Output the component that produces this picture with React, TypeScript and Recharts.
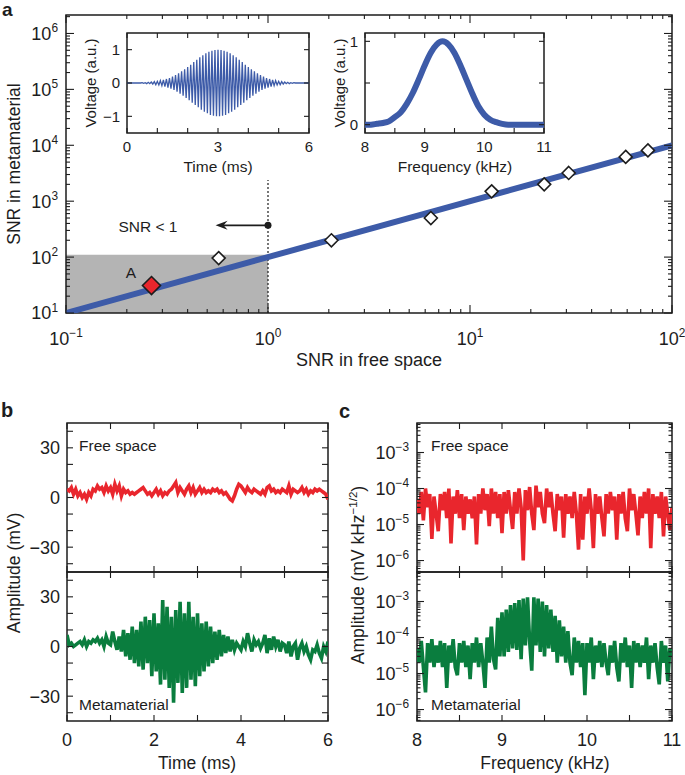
import React from "react";
import {
  ComposedChart,
  LineChart,
  Line,
  Scatter,
  XAxis,
  YAxis,
  ReferenceArea,
  ReferenceLine,
  ReferenceDot,
} from "recharts";

const FONT = "'Liberation Sans', Arial, Helvetica, sans-serif";
const INK = "#1d1d1d";
const BLUE = "#3d5ba8";
const RED = "#e9262d";
const GREEN = "#0a7d3e";
const SHADE = "#b4b4b4";

// ---- panel a: SNR metamaterial vs free space ----
const fitFree = [0.1, 100];
const fitMeta = [10, 10000];
const measFree = [0.57, 2.06, 6.4, 12.8, 23.3, 30.8, 59, 76];
const measMeta = [96, 200, 500, 1500, 2000, 3200, 6200, 8100];
const pointAFree = [0.265];
const pointAMeta = [31];
const shadeFree = [0.1, 1];
const shadeMeta = [10, 110];
const thresholdFree = 1;
const thresholdTopMeta = 2400;
const arrowMeta = 370;
const arrowEndFree = 0.55;
const aXDomain = [0.1, 100];
const aYDomain = [10, 2.14e6];

// ---- inset: emitted pulse (time domain), 0.05 ms grid ----
const pulseStepMs = 0.05;
const pulseVolt = [
  0, 0, 0, 0, 0, 0, 0, 0, 0, 0,
  0.01, -0.01, 0.01, -0.02, 0.02, -0.02, 0.03, -0.03, 0.04, -0.05,
  0.05, -0.06, 0.07, -0.08, 0.09, -0.11, 0.12, -0.14, 0.15, -0.17,
  0.19, -0.21, 0.24, -0.26, 0.29, -0.32, 0.35, -0.38, 0.41, -0.45,
  0.48, -0.52, 0.55, -0.59, 0.63, -0.66, 0.7, -0.73, 0.77, -0.8,
  0.83, -0.86, 0.89, -0.91, 0.94, -0.96, 0.97, -0.98, 0.99, -1.0,
  1.0,
  -1.0, 0.99, -0.98, 0.97, -0.96, 0.94, -0.91, 0.89, -0.86, 0.83,
  -0.8, 0.77, -0.73, 0.7, -0.66, 0.63, -0.59, 0.55, -0.52, 0.48,
  -0.45, 0.41, -0.38, 0.35, -0.32, 0.29, -0.26, 0.24, -0.21, 0.19,
  -0.17, 0.15, -0.14, 0.12, -0.11, 0.09, -0.08, 0.07, -0.06, 0.05,
  -0.05, 0.04, -0.03, 0.03, -0.02, 0.02, -0.02, 0.01, -0.01, 0.01,
  0, 0, 0, 0, 0, 0, 0, 0, 0, 0,
];

// ---- inset: pulse spectrum, 0.1 kHz grid from 8 kHz ----
const specStartKHz = 8;
const specStepKHz = 0.1;
const specVolt = [
  0, 0, 0.01, 0.02, 0.04, 0.09, 0.15, 0.25, 0.38, 0.54,
  0.71, 0.86, 0.96, 1.0, 0.96, 0.86, 0.71, 0.54, 0.37, 0.22,
  0.12, 0.06, 0.03, 0.01, 0, 0, 0, 0, 0, 0, 0,
];

// ---- panel b: received signal (mV), 0.05 ms grid ----
const bStepMs = 0.05;
const bFree = [
  5, 4, 6, 2, 5, 1, 3, 0, 2, -1,
  3, 1, 5, 4, 7, 5, 6, 3, 7, 4,
  6, 2, 8, 4, 7, 1, 5, 3, 4, 2,
  3, 2, 3, 4, 5, 6, 4, 2, 3, 1,
  3, 5, 2, 4, 1, 3, 2, 4, 5, 7,
  9, 3, 6, 4, 2, 5, 7, 3, 6, 2,
  4, 6, 3, 5, 3, 4, 3, 5, 4, 5,
  3, 4, 2, 3, 1, -1, -2, 1, 5, 8,
  7, 5, 3, 6, 4, 3, 5, 4, 3, 2,
  4, 2, 6, 7, 4, 5, 3, 4, 3, 5,
  4, 3, 7, 2, 5, 4, 3, 4, 6, 3,
  5, 2, 4, 3, 5, 4, 5, 4, 3, 2,
  -1,
];
const bMeta = [
  7, 1, 2, 0, 1, 2, 3, 1, 4, 0,
  3, 2, 4, 3, 5, 2, 4, 0, 6, 2,
  1, 9, 3, -2, 6, -3, 10, -6, 8, -8,
  12, -10, 10, -12, 15, -14, 18, -10, 16, -18,
  20, -15, 14, -23, 28, -20, 24, -25, 18, -34,
  22, -22, 27, -28, 20, -25, 27, -20, 18, -24,
  20, -18, 14, -15, 15, -12, 12, -10, 9, -8,
  10, -6, 7, -4, 6, -3, 4, -2, 2, 0,
  -2, 3, 0, 8, 2, -3, 4, 1, 3, -1,
  2, 7, -4, 5, -2, 6, 0, 4, -3, 2,
  1, -4, 3, -6, 0, 2, -8, -1, 2, -3,
  0, -5, -8, -2, -3, 1, -4, -7, 0, -3,
  3,
];
const bXTicks = [0, 1, 2, 3, 4, 5, 6];
const bXLabels = [0, 2, 4, 6];
const bYTicks = [-40, -30, -20, -10, 0, 10, 20, 30, 40];
const bYLabels = [-30, 0, 30];

// ---- panel c: amplitude spectra (mV kHz^-1/2), 0.025 kHz grid from 8 kHz ----
const cStartKHz = 8;
const cStepKHz = 0.025;
const cFree = [
  5e-5, 2e-5, 8e-5, 1.3e-5, 1e-4, 3e-5, 7e-5, 4e-6, 6e-5, 2e-5,
  6.5e-6, 7e-5, 2.5e-5, 8e-5, 1.5e-5, 1e-4, 3e-6, 6e-5, 2e-5, 9e-5,
  1.5e-5, 7e-5, 7e-6, 6e-5, 2e-5, 5e-5, 1.5e-5, 6e-5, 2.8e-6, 7e-5,
  2e-5, 1e-4, 2.5e-5, 7e-5, 9e-6, 1e-4, 2e-5, 8e-5, 1.5e-5, 7e-5,
  5.8e-6, 8e-5, 2e-5, 9e-5, 2.5e-5, 7.5e-6, 8e-5, 2e-5, 1e-4, 3e-5,
  1e-6, 9e-5, 2.5e-5, 1.1e-4, 2e-5, 7e-6, 1.2e-4, 3e-5, 8e-5, 2e-5,
  1.1e-5, 1e-4, 3e-5, 8e-5, 2e-5, 6.5e-6, 7e-5, 2.5e-5, 6e-5, 4.3e-6,
  7e-5, 2e-5, 6e-5, 1.5e-5, 8e-5, 2e-5, 2e-6, 7e-5, 3.8e-6, 6e-5,
  2e-5, 1e-4, 2.5e-5, 2.2e-6, 7e-5, 2e-5, 6e-5, 1.5e-5, 4.7e-6, 7e-5,
  2e-5, 8e-5, 2.5e-5, 6e-5, 3.8e-6, 7e-5, 2e-5, 8e-5, 1.5e-5, 6.5e-6,
  1e-4, 2.5e-5, 7e-5, 2e-5, 5e-6, 6e-5, 1.5e-5, 8e-5, 2e-5, 1e-4,
  2.2e-6, 7e-5, 2e-5, 6e-5, 1.5e-5, 8e-5, 4.7e-6, 6e-5, 2e-5, 7e-6,
  3e-5,
];
const cMeta = [
  5e-5, 2e-5, 8e-5, 1.5e-5, 3e-6, 7e-5, 2e-5, 9e-5, 1.5e-5, 6e-5,
  2e-5, 8e-5, 1.5e-5, 7e-5, 4e-6, 6e-5, 2e-5, 9e-5, 1.5e-5, 9e-6,
  7e-5, 2e-5, 8e-5, 1.5e-5, 6e-5, 7e-6, 7e-5, 2e-5, 1e-4, 1.5e-5,
  7e-5, 2e-5, 4e-6, 1e-4, 2e-5, 2e-4, 2.5e-5, 1.3e-5, 3.5e-4, 3e-5,
  5e-4, 3e-5, 6e-4, 4e-5, 8e-4, 5e-5, 9e-4, 4.5e-5, 1.1e-3, 2.5e-5,
  1.2e-3, 6e-5, 1.3e-3, 8e-5, 1.2e-5, 1.3e-3, 6e-5, 1.2e-3, 4e-5, 1e-3,
  3e-5, 8e-4, 5e-5, 6e-4, 4e-5, 4e-4, 2e-5, 3e-4, 3e-5, 2e-4,
  2e-5, 1.5e-4, 2e-5, 9e-6, 1e-4, 2e-5, 8e-5, 1.5e-5, 7e-5, 2.5e-6,
  7e-5, 2e-5, 1e-4, 7e-6, 6e-5, 2e-5, 8e-5, 1.5e-5, 7e-5, 2e-5,
  9e-6, 6e-5, 2e-5, 8e-5, 1.5e-5, 6e-6, 7e-5, 2e-5, 1e-4, 1.5e-5,
  6e-5, 4e-6, 8e-5, 2e-5, 7e-5, 1.5e-5, 6e-5, 2e-5, 1e-4, 7e-6,
  6e-5, 2e-5, 7e-5, 1.5e-5, 5e-6, 8e-5, 2e-5, 6e-5, 6e-6, 5e-5,
  3e-5,
];
const cXTicks = [8, 8.5, 9, 9.5, 10, 10.5, 11];
const cXLabels = [8, 9, 10, 11];
const cYDomain = [4.8e-7, 6.6e-3];

// ---------- helpers ----------
const logTicks = (lo: number, hi: number) => {
  const out: number[] = [];
  for (let e = Math.floor(Math.log10(lo)) - 1; e <= Math.ceil(Math.log10(hi)); e++) {
    for (let m = 1; m < 10; m++) {
      const v = Number((m * Math.pow(10, e)).toPrecision(4));
      if (v >= lo * 0.9999 && v <= hi * 1.0001) out.push(v);
    }
  }
  return out;
};
const isDecade = (v: number) => Math.abs(Math.log10(v) - Math.round(Math.log10(v))) < 1e-6;
const num = (v: number) => (v < 0 ? `\u2212${-v}` : `${v}`);
const pow = (fs: number) => (v: number) => {
  const e = Math.round(Math.log10(v));
  return (
    <>
      10
      <tspan dy={-fs * 0.42} fontSize={fs * 0.66}>
        {num(e)}
      </tspan>
    </>
  );
};

type TickSpec = {
  span: number;
  isMajor: (v: number) => boolean;
  text: ((v: number) => React.ReactNode) | null;
  fs: number;
  gap: number;
  long: number;
  short: number;
};

const yTick = (s: TickSpec) => (p: any) => {
  const x = Number(p.x);
  const y = Number(p.y);
  const v = p.payload.value;
  const major = s.isMajor(v);
  const len = major ? s.long : s.short;
  return (
    <g>
      <line x1={x} x2={x + len} y1={y} y2={y} stroke={INK} strokeWidth={1.1} />
      <line x1={x + s.span - len} x2={x + s.span} y1={y} y2={y} stroke={INK} strokeWidth={1.1} />
      {major && s.text && (
        <text x={x - s.gap} y={y + s.fs * 0.36} textAnchor="end" fontSize={s.fs} fill={INK} fontFamily={FONT}>
          {s.text(v)}
        </text>
      )}
    </g>
  );
};

const xTick = (s: TickSpec) => (p: any) => {
  const x = Number(p.x);
  const y = Number(p.y);
  const v = p.payload.value;
  const major = s.isMajor(v);
  const len = major ? s.long : s.short;
  return (
    <g>
      <line x1={x} x2={x} y1={y} y2={y - len} stroke={INK} strokeWidth={1.1} />
      <line x1={x} x2={x} y1={y - s.span} y2={y - s.span + len} stroke={INK} strokeWidth={1.1} />
      {major && s.text && (
        <text x={x} y={y + s.gap} textAnchor="middle" fontSize={s.fs} fill={INK} fontFamily={FONT}>
          {s.text(v)}
        </text>
      )}
    </g>
  );
};

const diamond = (r: number, fill: string) => (p: any) => {
  const { cx, cy } = p;
  return (
    <path
      d={`M${cx},${cy - r}L${cx + r},${cy}L${cx},${cy + r}L${cx - r},${cy}Z`}
      fill={fill}
      stroke={INK}
      strokeWidth={1.6}
    />
  );
};

const arrowShape = (p: any) => {
  const { x1, y1, x2, y2 } = p;
  const d = x2 < x1 ? 1 : -1;
  return (
    <g>
      <line x1={x1} y1={y1} x2={x2 + d * 6} y2={y2} stroke={INK} strokeWidth={1.6} />
      <path
        d={`M${x2},${y2}L${x2 + d * 12},${y2 - 4.5}L${x2 + d * 8},${y2}L${x2 + d * 12},${y2 + 4.5}Z`}
        fill={INK}
      />
    </g>
  );
};

const axisCommon = {
  type: "number" as const,
  allowDataOverflow: true,
  interval: 0 as const,
  tickSize: 0,
  tickMargin: 0,
  axisLine: false,
};

const inList = (list: number[]) => (v: number) => list.some((t) => Math.abs(t - v) < 1e-9);
const always = () => true;

// ---------- data tables ----------
const fitData = fitFree.map((f, i) => ({ free: f, meta: fitMeta[i] }));
const measData = measFree.map((f, i) => ({ free: f, meta: measMeta[i] }));
const pointAData = pointAFree.map((f, i) => ({ free: f, meta: pointAMeta[i] }));
const pulseData = pulseVolt.map((v, i) => ({ t: Number((i * pulseStepMs).toFixed(2)), v }));
const specData = specVolt.map((v, i) => ({ f: Number((specStartKHz + i * specStepKHz).toFixed(2)), v }));
const bFreeData = bFree.map((v, i) => ({ t: Number((i * bStepMs).toFixed(2)), v }));
const bMetaData = bMeta.map((v, i) => ({ t: Number((i * bStepMs).toFixed(2)), v }));
const cFreeData = cFree.map((v, i) => ({ f: Number((cStartKHz + i * cStepKHz).toFixed(3)), v }));
const cMetaData = cMeta.map((v, i) => ({ f: Number((cStartKHz + i * cStepKHz).toFixed(3)), v }));

const aXTicks = logTicks(aXDomain[0], aXDomain[1]);
const aYTicks = logTicks(aYDomain[0], aYDomain[1]);
const cYTicks = logTicks(cYDomain[0], cYDomain[1]);

const box = (x1: number, x2: number, y1: number, y2: number) => (
  <ReferenceArea x1={x1} x2={x2} y1={y1} y2={y2} fill="none" stroke={INK} strokeWidth={1.5} ifOverflow="visible" />
);

const abs = (left: number, top: number): React.CSSProperties => ({ position: "absolute", left, top });

function PanelA() {
  return (
    <div style={abs(0, 0)}>
      <ComposedChart width={685} height={380} margin={{ top: 15, right: 13, bottom: 0, left: 0 }} data={fitData}>
        <XAxis
          {...axisCommon}
          dataKey="free"
          scale="log"
          domain={aXDomain}
          ticks={aXTicks}
          height={67}
          tick={xTick({ span: 298, isMajor: isDecade, text: pow(18), fs: 18, gap: 32, long: 8, short: 4 })}
        />
        <YAxis
          {...axisCommon}
          dataKey="meta"
          scale="log"
          domain={aYDomain}
          ticks={aYTicks}
          width={66}
          tick={yTick({ span: 606, isMajor: isDecade, text: pow(18), fs: 18, gap: 8, long: 8, short: 4 })}
        />
        <ReferenceArea
          x1={shadeFree[0]}
          x2={shadeFree[1]}
          y1={shadeMeta[0]}
          y2={shadeMeta[1]}
          fill={SHADE}
          fillOpacity={1}
          stroke="none"
        />
        <ReferenceLine
          segment={[
            { x: thresholdFree, y: aYDomain[0] },
            { x: thresholdFree, y: thresholdTopMeta },
          ]}
          stroke={INK}
          strokeWidth={1.2}
          strokeDasharray="2 2"
        />
        <Line dataKey="meta" stroke={BLUE} strokeWidth={6} dot={false} isAnimationActive={false} type="linear" />
        <Scatter data={measData} dataKey="meta" shape={diamond(6.5, "#ffffff")} isAnimationActive={false} />
        <Scatter data={pointAData} dataKey="meta" shape={diamond(9, RED)} isAnimationActive={false} />
        <ReferenceLine
          segment={[
            { x: thresholdFree, y: arrowMeta },
            { x: arrowEndFree, y: arrowMeta },
          ]}
          shape={arrowShape}
        />
        <ReferenceDot x={thresholdFree} y={arrowMeta} r={3.5} fill={INK} stroke="none" />
        {box(aXDomain[0], aXDomain[1], aYDomain[0], aYDomain[1])}
      </ComposedChart>
    </div>
  );
}

function InsetPulse() {
  return (
    <div style={abs(87, 20)}>
      <LineChart width={230} height={135} margin={{ top: 13, right: 8, bottom: 0, left: 0 }} data={pulseData}>
        <XAxis
          {...axisCommon}
          dataKey="t"
          domain={[0, 6]}
          ticks={[0, 1, 2, 3, 4, 5, 6]}
          height={22}
          tick={xTick({ span: 100, isMajor: always, text: (v) => (v % 3 === 0 ? num(v) : null), fs: 15, gap: 19, long: 5, short: 5 })}
        />
        <YAxis
          {...axisCommon}
          domain={[-1.5, 1.5]}
          ticks={[-1, 0, 1]}
          width={40}
          tick={yTick({ span: 182, isMajor: always, text: num, fs: 15, gap: 7, long: 5, short: 5 })}
        />
        <Line dataKey="v" stroke={BLUE} strokeWidth={1.3} dot={false} isAnimationActive={false} type="linear" />
        {box(0, 6, -1.5, 1.5)}
      </LineChart>
    </div>
  );
}

function InsetSpectrum() {
  return (
    <div style={abs(325, 20)}>
      <LineChart width={227} height={135} margin={{ top: 13, right: 8, bottom: 0, left: 0 }} data={specData}>
        <XAxis
          {...axisCommon}
          dataKey="f"
          domain={[8, 11]}
          ticks={[8, 8.5, 9, 9.5, 10, 10.5, 11]}
          height={22}
          tick={xTick({ span: 100, isMajor: always, text: (v) => (Number.isInteger(v) ? num(v) : null), fs: 15, gap: 19, long: 5, short: 5 })}
        />
        <YAxis
          {...axisCommon}
          domain={[-0.1, 1.1]}
          ticks={[0, 0.5, 1]}
          width={40}
          tick={yTick({ span: 179, isMajor: always, text: (v) => (Number.isInteger(v) ? num(v) : null), fs: 15, gap: 7, long: 5, short: 5 })}
        />
        <Line dataKey="v" stroke={BLUE} strokeWidth={6} dot={false} isAnimationActive={false} type="monotone" />
        {box(8, 11, -0.1, 1.1)}
      </LineChart>
    </div>
  );
}

function PanelB({ top, data, color, bottomAxis }: { top: boolean; data: any[]; color: string; bottomAxis: boolean }) {
  const h = bottomAxis ? 213 : 173;
  const mt = top ? 23 : 10;
  return (
    <div style={abs(0, top ? 400 : 562)}>
      <LineChart width={340} height={h} margin={{ top: mt, right: 12, bottom: 0, left: 0 }} data={data}>
        <XAxis
          {...axisCommon}
          dataKey="t"
          domain={[0, 6]}
          ticks={bXTicks}
          height={bottomAxis ? 54 : 1}
          tick={xTick({
            span: 149,
            isMajor: always,
            text: bottomAxis ? (v) => (inList(bXLabels)(v) ? num(v) : null) : null,
            fs: 18,
            gap: 25,
            long: 6,
            short: 6,
          })}
        />
        <YAxis
          {...axisCommon}
          domain={[-45, 45]}
          ticks={bYTicks}
          width={67}
          tick={yTick({
            span: 261,
            isMajor: always,
            text: (v) => (inList(bYLabels)(v) ? num(v) : null),
            fs: 18,
            gap: 7,
            long: 6,
            short: 6,
          })}
        />
        <Line dataKey="v" stroke={color} strokeWidth={3.6} dot={false} isAnimationActive={false} type="linear" />
        {box(0, 6, -45, 45)}
      </LineChart>
    </div>
  );
}

function PanelC({ top, data, color, bottomAxis }: { top: boolean; data: any[]; color: string; bottomAxis: boolean }) {
  const h = bottomAxis ? 213 : 173;
  const mt = top ? 23 : 10;
  return (
    <div style={abs(340, top ? 400 : 562)}>
      <LineChart width={345} height={h} margin={{ top: mt, right: 13, bottom: 0, left: 0 }} data={data}>
        <XAxis
          {...axisCommon}
          dataKey="f"
          domain={[8, 11]}
          ticks={cXTicks}
          height={bottomAxis ? 54 : 1}
          tick={xTick({
            span: 149,
            isMajor: always,
            text: bottomAxis ? (v) => (inList(cXLabels)(v) ? num(v) : null) : null,
            fs: 18,
            gap: 25,
            long: 6,
            short: 6,
          })}
        />
        <YAxis
          {...axisCommon}
          scale="log"
          domain={cYDomain}
          ticks={cYTicks}
          width={77}
          tick={yTick({ span: 255, isMajor: isDecade, text: pow(18), fs: 18, gap: 8, long: 7, short: 3.5 })}
        />
        <Line dataKey="v" stroke={color} strokeWidth={3.6} dot={false} isAnimationActive={false} type="linear" />
        {box(8, 11, cYDomain[0], cYDomain[1])}
      </LineChart>
    </div>
  );
}

const T = (props: any) => <text fill={INK} fontFamily={FONT} {...props} />;
const RotT = ({ cx, cy, children, fs }: any) => (
  <text
    transform={`translate(${cx},${cy}) rotate(-90)`}
    textAnchor="middle"
    dy="0.35em"
    fontSize={fs}
    fill={INK}
    fontFamily={FONT}
  >
    {children}
  </text>
);

function Overlay() {
  return (
    <svg width={685} height={775} style={{ position: "absolute", left: 0, top: 0, pointerEvents: "none" }}>
      <T x={2} y={16} fontSize={19} fontWeight="bold">a</T>
      <T x={1} y={417} fontSize={20} fontWeight="bold">b</T>
      <T x={339} y={418} fontSize={20} fontWeight="bold">c</T>

      <RotT cx={14} cy={164} fs={17.5}>SNR in metamaterial</RotT>
      <T x={369} y={366} fontSize={18} textAnchor="middle">SNR in free space</T>
      <T x={148} y={232} fontSize={15.5} textAnchor="middle">SNR &lt; 1</T>
      <T x={131} y={278} fontSize={15.5} textAnchor="middle">A</T>

      <RotT cx={91} cy={83} fs={15}>Voltage (a.u.)</RotT>
      <T x={218} y={172} fontSize={15.5} textAnchor="middle">Time (ms)</T>
      <RotT cx={340} cy={83} fs={15}>Voltage (a.u.)</RotT>
      <T x={455} y={172} fontSize={15.5} textAnchor="middle">Frequency (kHz)</T>

      <RotT cx={14} cy={573} fs={17.5}>Amplitude (mV)</RotT>
      <T x={197} y={769} fontSize={17.5} textAnchor="middle">Time (ms)</T>
      <T x={79} y={451} fontSize={15.5}>Free space</T>
      <T x={79} y={710} fontSize={15.5}>Metamaterial</T>

      <RotT cx={358} cy={575} fs={17.5}>
        Amplitude (mV kHz
        <tspan dy={-7} fontSize={11.5}>{"\u22121/2"}</tspan>
        <tspan dy={7}>)</tspan>
      </RotT>
      <T x={545} y={769} fontSize={17.5} textAnchor="middle">Frequency (kHz)</T>
      <T x={431} y={451} fontSize={15.5}>Free space</T>
      <T x={431} y={710} fontSize={15.5}>Metamaterial</T>
    </svg>
  );
}

export default function App() {
  return (
    <div style={{ position: "absolute", left: 0, top: 0, width: 685, height: 775, background: "#fff", fontFamily: FONT }}>
      <PanelA />
      <InsetPulse />
      <InsetSpectrum />
      <PanelB top data={bFreeData} color={RED} bottomAxis={false} />
      <PanelB top={false} data={bMetaData} color={GREEN} bottomAxis />
      <PanelC top data={cFreeData} color={RED} bottomAxis={false} />
      <PanelC top={false} data={cMetaData} color={GREEN} bottomAxis />
      <Overlay />
    </div>
  );
}
